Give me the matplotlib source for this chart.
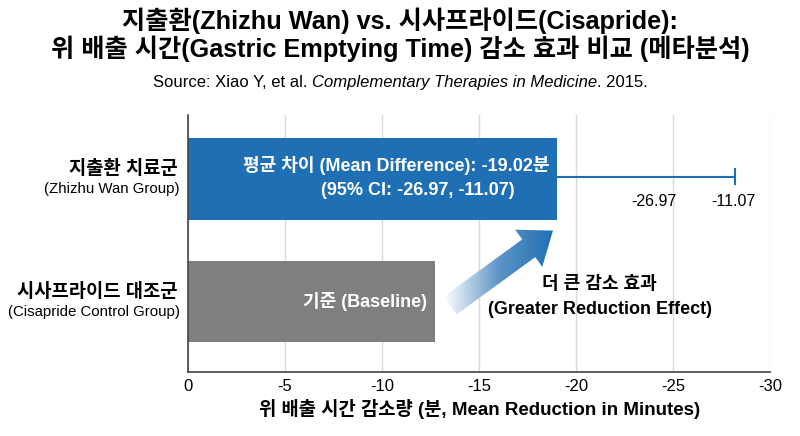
import matplotlib
matplotlib.use("Agg")
import matplotlib.pyplot as plt
import numpy as np
from matplotlib.patches import Polygon
from matplotlib.colors import LinearSegmentedColormap

plt.rcParams['font.family'] = ['Liberation Sans', 'Noto Sans CJK KR', 'DejaVu Sans']

# data
groups_ko = ['시사프라이드 대조군', '지출환 치료군']
groups_en = ['(Cisapride Control Group)', '(Zhizhu Wan Group)']
reduction = [-12.7, -19.02]          # bar lengths as drawn
ci_labels = [-26.97, -11.07]
whisker_end = -28.2                   # whisker end as drawn in the source
xticks = [0, -5, -10, -15, -20, -25, -30]

blue = '#1f6fb4'
gray = '#7f7f7f'

fig = plt.figure(figsize=(8, 4.36), dpi=100)
ax = fig.add_axes([0.235, 0.147, 0.728, 0.589])

y = np.arange(len(groups_ko))
ax.barh(y, reduction, height=0.66, color=[gray, blue], zorder=2)
ax.set_xlim(0, -30)
ax.set_ylim(-0.57, 1.52)
ax.set_xticks(xticks)
ax.set_xticklabels([str(t) for t in xticks], fontsize=12)
ax.tick_params(axis='both', length=0, pad=5)
ax.set_yticks([])
ax.grid(axis='x', color='#d9d9d9', linewidth=1, zorder=0)
for s in ['top', 'right']:
    ax.spines[s].set_visible(False)
for s in ['left', 'bottom']:
    ax.spines[s].set_color('#444444')
    ax.spines[s].set_linewidth(1.2)

# whisker
ax.plot([reduction[1], whisker_end], [1.02, 1.02], color=blue, lw=1.5, zorder=3)
ax.plot([whisker_end, whisker_end], [0.96, 1.08], color=blue, lw=1.5, zorder=3)
ax.text(-24.0, 0.82, f'{ci_labels[0]:.2f}', ha='center', va='center', fontsize=11.5)
ax.text(-28.1, 0.82, f'{ci_labels[1]:.2f}', ha='center', va='center', fontsize=11.5)

# group labels
for yi, ko, en in zip(y, groups_ko, groups_en):
    ax.text(-0.0, yi + 0.08, ko + '  ', transform=ax.get_yaxis_transform(), ha='right', va='center',
            fontsize=13.5, fontweight='bold')
    ax.text(-0.0, yi - 0.08, en + '  ', transform=ax.get_yaxis_transform(), ha='right', va='center',
            fontsize=10.8)

# text in bars
ax.text(reduction[1] + 0.4, 1.11, '평균 차이 (Mean Difference): -19.02분', ha='right', va='center',
        color='white', fontsize=13, fontweight='bold', zorder=4)
ax.text(-11.85, 0.91, '(95% CI: -26.97, -11.07)', ha='center', va='center',
        color='white', fontsize=13, fontweight='bold', zorder=4)
ax.text(reduction[0] + 0.4, 0.0, '기준 (Baseline)', ha='right', va='center',
        color='white', fontsize=13, fontweight='bold', zorder=4)

# gradient arrow
tail = np.array([-13.5, -0.03])
tip = np.array([-18.8, 0.58])
fig.canvas.draw()
tp, hp = ax.transData.transform(tail), ax.transData.transform(tip)
d = hp - tp
u = d / np.hypot(*d)
n = np.array([-u[1], u[0]])
hw_tail, hw_head, head_len = 11, 23, 30
base = hp - u * head_len
pts_px = [tp + n * hw_tail, base + n * hw_tail, base + n * hw_head, hp,
          base - n * hw_head, base - n * hw_tail, tp - n * hw_tail]
pts = ax.transData.inverted().transform(pts_px)
poly = Polygon(pts, closed=True, facecolor='none', edgecolor='none', zorder=3)
ax.add_patch(poly)
grad = np.linspace(0, 1, 256).reshape(1, -1)
cmap = LinearSegmentedColormap.from_list('g', ['#ffffff', '#5c95c6', blue])
xs = pts[:, 0]; ys = pts[:, 1]
im = ax.imshow(grad, cmap=cmap, aspect='auto', extent=[xs.max(), xs.min(), ys.min(), ys.max()],
               zorder=3, interpolation='bicubic')
im.set_clip_path(poly)
ax.set_xlim(0, -30)
ax.set_ylim(-0.57, 1.52)

ax.text(-21.2, 0.14, '더 큰 감소 효과', ha='center', va='center', fontsize=13, fontweight='bold')
ax.text(-21.2, -0.06, '(Greater Reduction Effect)', ha='center', va='center', fontsize=13, fontweight='bold')

ax.set_xlabel('위 배출 시간 감소량 (분, Mean Reduction in Minutes)', fontsize=13.5, fontweight='bold', labelpad=4)

# titles
fig.text(0.5, 0.952, '지출환(Zhizhu Wan) vs. 시사프라이드(Cisapride):', ha='center', va='center',
         fontsize=18.2, fontweight='bold')
fig.text(0.5, 0.889, '위 배출 시간(Gastric Emptying Time) 감소 효과 비교 (메타분석)', ha='center', va='center',
         fontsize=18.2, fontweight='bold')

# subtitle with italic journal name
parts = [('Source: Xiao Y, et al. ', 'normal'), ('Complementary Therapies in Medicine', 'italic'), ('. 2015.', 'normal')]
r = fig.canvas.get_renderer()
objs = []
widths = []
for s, st in parts:
    t = fig.text(0, 0.811, s, fontsize=12, style=st, ha='left', va='center')
    objs.append(t)
    widths.append(t.get_window_extent(r).width)
x0 = (fig.bbox.width - sum(widths)) / 2
for t, w in zip(objs, widths):
    t.set_x(x0 / fig.bbox.width)
    x0 += w

fig.savefig('out.png', dpi=100)
